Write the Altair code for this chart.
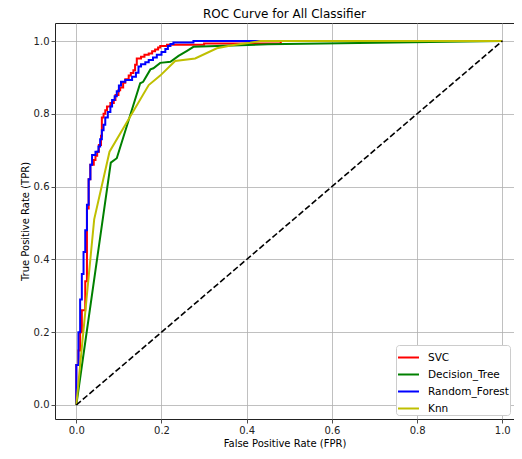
import altair as alt
import pandas as pd

models = ["SVC", "Decision_Tree", "Random_Forest", "Knn"]
colors = ["#ff0000", "#008000", "#0000ff", "#bfbf00"]

svc_fpr = [0, 0, 0.005, 0.005, 0.009, 0.009, 0.013, 0.013, 0.016, 0.016, 0.021, 0.021, 0.025, 0.025,
           0.029, 0.029, 0.033, 0.033, 0.041, 0.041, 0.045, 0.045, 0.049, 0.049, 0.053, 0.053, 0.058,
           0.058, 0.060, 0.060, 0.064, 0.064, 0.068, 0.068, 0.072, 0.072, 0.080, 0.080, 0.088, 0.088,
           0.092, 0.092, 0.099, 0.099, 0.103, 0.103, 0.110, 0.110, 0.115, 0.115, 0.123, 0.123, 0.128,
           0.128, 0.134, 0.134, 0.138, 0.138, 0.142, 0.142, 0.152, 0.152, 0.160, 0.160, 0.170, 0.170,
           0.178, 0.178, 0.185, 0.185, 0.192, 0.192, 0.197, 0.197, 0.213, 0.213, 0.300, 0.300, 0.480,
           0.480, 1.0]
svc_tpr = [0, 0.11, 0.11, 0.15, 0.15, 0.20, 0.20, 0.26, 0.26, 0.26, 0.26, 0.34, 0.34, 0.54,
           0.54, 0.62, 0.62, 0.66, 0.66, 0.673, 0.673, 0.685, 0.685, 0.696, 0.696, 0.714, 0.714,
           0.74, 0.74, 0.79, 0.79, 0.80, 0.80, 0.81, 0.81, 0.82, 0.82, 0.83, 0.83, 0.838,
           0.838, 0.852, 0.852, 0.865, 0.865, 0.872, 0.872, 0.885, 0.885, 0.895, 0.895, 0.905, 0.905,
           0.912, 0.912, 0.92, 0.92, 0.935, 0.935, 0.952, 0.952, 0.957, 0.957, 0.962, 0.962, 0.966,
           0.966, 0.972, 0.972, 0.977, 0.977, 0.982, 0.982, 0.986, 0.986, 0.990, 0.990, 0.993, 0.993,
           1.0, 1.0]

dt_fpr = [0, 0.081, 0.095, 0.150, 0.157, 0.174, 0.181, 0.197, 0.221, 0.240, 0.260, 0.275, 0.45, 1.0]
dt_tpr = [0, 0.666, 0.678, 0.884, 0.888, 0.922, 0.925, 0.940, 0.943, 0.959, 0.973, 0.984, 0.991, 1.0]

rf_fpr = [0, 0, 0.005, 0.005, 0.009, 0.009, 0.013, 0.013, 0.017, 0.017, 0.021, 0.021, 0.025, 0.025,
          0.029, 0.029, 0.033, 0.033, 0.037, 0.037, 0.045, 0.045, 0.052, 0.052, 0.056, 0.056, 0.060,
          0.060, 0.064, 0.064, 0.068, 0.068, 0.074, 0.074, 0.080, 0.080, 0.084, 0.084, 0.090, 0.090,
          0.095, 0.095, 0.100, 0.100, 0.105, 0.105, 0.115, 0.115, 0.131, 0.131, 0.140, 0.140, 0.146,
          0.146, 0.152, 0.152, 0.162, 0.162, 0.170, 0.170, 0.180, 0.180, 0.189, 0.189, 0.200, 0.200,
          0.209, 0.209, 0.215, 0.215, 0.221, 0.221, 0.228, 0.228, 0.275, 0.275, 1.0]
rf_tpr = [0, 0.11, 0.11, 0.20, 0.20, 0.29, 0.29, 0.36, 0.36, 0.42, 0.42, 0.48, 0.48, 0.55,
          0.55, 0.62, 0.62, 0.66, 0.66, 0.687, 0.687, 0.696, 0.696, 0.71, 0.71, 0.73, 0.73,
          0.755, 0.755, 0.77, 0.77, 0.79, 0.79, 0.805, 0.805, 0.82, 0.82, 0.838, 0.838, 0.848,
          0.848, 0.862, 0.862, 0.878, 0.878, 0.888, 0.888, 0.893, 0.893, 0.902, 0.902, 0.913, 0.913,
          0.93, 0.93, 0.936, 0.936, 0.942, 0.942, 0.948, 0.948, 0.955, 0.955, 0.962, 0.962, 0.97,
          0.97, 0.978, 0.978, 0.986, 0.986, 0.992, 0.992, 0.996, 0.996, 1.0, 1.0]

knn_fpr = [0, 0.042, 0.078, 0.170, 0.197, 0.232, 0.279, 0.330, 0.369, 0.408, 0.432, 1.0]
knn_tpr = [0, 0.510, 0.696, 0.879, 0.905, 0.945, 0.952, 0.980, 0.989, 0.995, 1.0, 1.0]

diag_fpr = [0, 1]
diag_tpr = [0, 1]

series = [(svc_fpr, svc_tpr), (dt_fpr, dt_tpr), (rf_fpr, rf_tpr), (knn_fpr, knn_tpr)]

x_scale = alt.Scale(domain=[-0.05, 1.0275], nice=False, zero=False)
y_scale = alt.Scale(domain=[-0.0385, 1.0495], nice=False, zero=False)
ticks = [0.0, 0.2, 0.4, 0.6, 0.8, 1.0]
color_scale = alt.Scale(domain=models, range=colors)

layers = []
for i, (name, (fx, ty)) in enumerate(zip(models, series)):
    df = pd.DataFrame({"fpr": fx, "tpr": ty, "model": name, "idx": list(range(len(fx)))})
    enc = dict(
        x=alt.X("fpr:Q", scale=x_scale,
                axis=alt.Axis(values=ticks, format=".1f", title="False Positive Rate (FPR)")),
        y=alt.Y("tpr:Q", scale=y_scale,
                axis=alt.Axis(values=ticks, format=".1f", title="True Positive Rate (TPR)")),
        order=alt.Order("idx:Q"),
        color=alt.Color("model:N", scale=color_scale,
                        legend=alt.Legend(title=None, orient="bottom-right", offset=4)),
    )
    layers.append(alt.Chart(df).mark_line(strokeWidth=2).encode(**enc))

diag_df = pd.DataFrame({"fpr": diag_fpr, "tpr": diag_tpr})
diag = alt.Chart(diag_df).mark_line(strokeWidth=1.6, color="#000000", strokeDash=[6, 2.6]).encode(
    x=alt.X("fpr:Q", scale=x_scale),
    y=alt.Y("tpr:Q", scale=y_scale),
)
layers.append(diag)

chart = alt.layer(*layers).properties(
    width=459,
    height=396,
    title=alt.Title("ROC Curve for All Classifier", fontSize=12, font="DejaVu Sans",
                    fontWeight="normal", color="#000000", offset=2),
    autosize=alt.AutoSizeParams(type="none"),
    padding={"left": 47, "top": 15, "right": 0, "bottom": 32},
).configure_view(
    stroke="#222222", strokeWidth=1
).configure_axis(
    grid=True, gridColor="#b0b0b0", gridWidth=0.8, domain=False,
    tickColor="#222222", tickSize=4, tickWidth=0.8,
    labelFont="DejaVu Sans", labelFontSize=10, labelColor="#222222", labelPadding=2,
    titleFont="DejaVu Sans", titleFontSize=10, titleFontWeight="normal", titleColor="#000000",
    titlePadding=3,
).configure_legend(
    fillColor="#ffffff", strokeColor="#cccccc", cornerRadius=3, padding=1,
    symbolType="stroke", symbolStrokeWidth=2, symbolSize=440,
    labelFont="DejaVu Sans", labelFontSize=10.5, labelColor="#000000", rowPadding=-4,
    labelOffset=8,
)

chart.save("out.html", embed_options={"renderer": "svg", "actions": False})
